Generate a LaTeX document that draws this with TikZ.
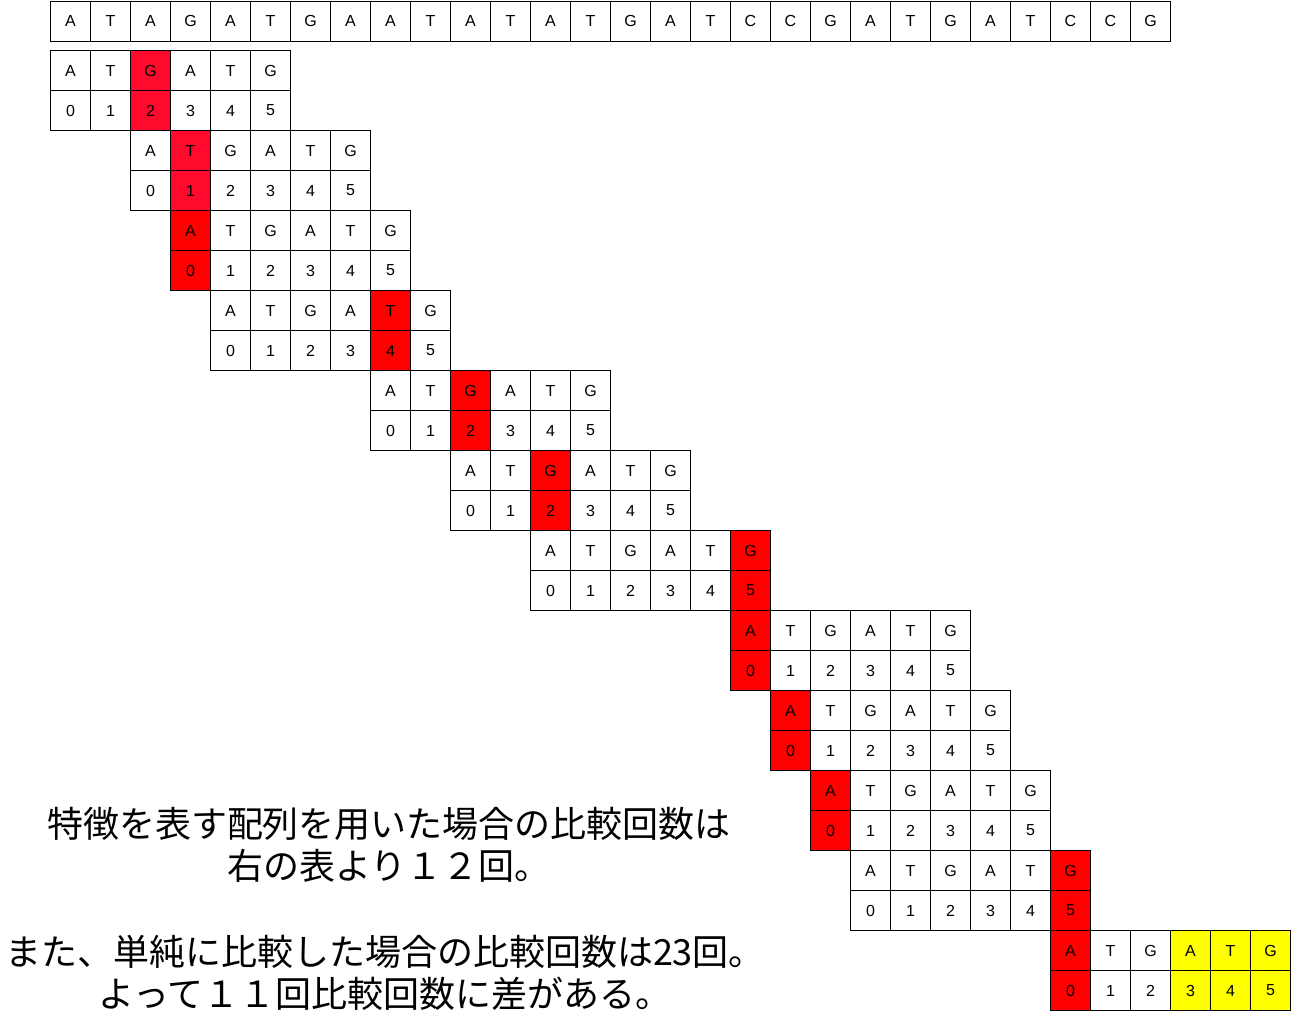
\documentclass[tikz,border=0pt]{standalone}
\usepackage{fontspec}
\setmainfont{Liberation Sans}
\newfontfamily\cjk{Noto Sans CJK JP}
\definecolor{hit}{HTML}{FF0000}
\definecolor{hitb}{HTML}{FF0A2D}
\definecolor{yel}{HTML}{FFFF00}
\begin{document}
\begin{tikzpicture}[x=1pt,y=-1pt,
  cell/.style={draw, line width=1pt, minimum size=40pt, inner sep=0pt, anchor=north west, font=\fontsize{16}{16}\selectfont},
  note/.style={font=\cjk\fontsize{36}{42}\selectfont, align=center}]
\useasboundingbox[fill=white] (0,0) rectangle (1291,1026);
% text sequence
\foreach \ch [count=\i from 0] in {A,T,A,G,A,T,G,A,A,T,A,T,A,T,G,A,T,C,C,G,A,T,G,A,T,C,C,G}
  \node[cell] (s\i) at ({50+40*\i},0.5) {\ch};
% pattern alignments
\foreach \bx/\by/\rc [count=\b] in {50/50/2,130/130/1,170/210/0,210/290/4,370/370/2,450/450/2,530/530/5,730/610/0,770/690/0,810/770/0,850/850/5,1050/930/0} {
  \foreach \ch [count=\c from 0] in {A,T,G,A,T,G} {
    \def\fc{white}
    \ifnum\c=\rc \ifnum\b<3 \def\fc{hitb}\else\def\fc{hit}\fi\fi
    \ifnum\b=12 \ifnum\c>2 \def\fc{yel}\fi\fi
    \node[cell, fill=\fc] (b\b t\c) at ({\bx+40*\c},\by) {\ch};
    \node[cell, fill=\fc] (b\b n\c) at ({\bx+40*\c},{\by+40}) {\c};
  }
}
\node[note] (txt1) at (389,845) {特徴を表す配列を用いた場合の比較回数は\\右の表より１２回。};
\node[note] (txt2) at (385,973) {また、単純に比較した場合の比較回数は23回。\\よって１１回比較回数に差がある。};
\end{tikzpicture}
\end{document}
